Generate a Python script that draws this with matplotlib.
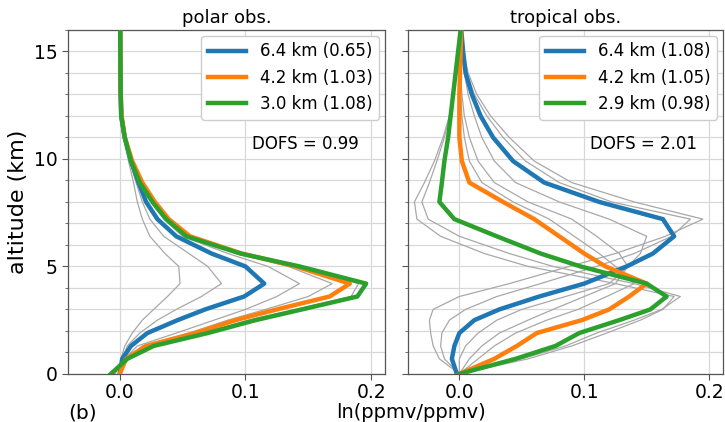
import matplotlib
matplotlib.use("Agg")
import matplotlib.pyplot as plt
from matplotlib.ticker import MultipleLocator

# altitude levels (km)
alt = [0, 0.7, 1.3, 1.9, 2.5, 3.0, 3.6, 4.2, 5.0, 5.6, 6.4, 7.2, 8.0, 8.9, 9.9,
       11.0, 12.0, 13.0, 14.0, 15.0, 16.0]

# ---- polar observation averaging kernels ----
polar_blue = [0.0, 0.002, 0.009, 0.022, 0.046, 0.068, 0.099, 0.115, 0.100, 0.073, 0.045,
              0.030, 0.021, 0.015, 0.009, 0.004, 0.0012, 0.0008, 0.0006, 0.0005, 0.0004]
polar_orange = [0.0, 0.005, 0.021, 0.060, 0.092, 0.125, 0.167, 0.183, 0.140, 0.097, 0.056,
                0.039, 0.028, 0.018, 0.010, 0.004, 0.0015, 0.0008, 0.0006, 0.0005, 0.0004]
polar_green = [-0.007, 0.006, 0.027, 0.070, 0.108, 0.145, 0.189, 0.196, 0.143, 0.096, 0.053,
               0.037, 0.026, 0.016, 0.009, 0.004, 0.0012, 0.0008, 0.0006, 0.0005, 0.0004]
polar_gray = [
    [0.0, 0.001, 0.004, 0.010, 0.018, 0.027, 0.038, 0.048, 0.047, 0.036, 0.024,
     0.018, 0.014, 0.011, 0.007, 0.003, 0.001, 0.0006, 0.0005, 0.0004, 0.0003],
    [0.0, 0.002, 0.006, 0.016, 0.030, 0.045, 0.065, 0.081, 0.070, 0.055, 0.035,
     0.024, 0.018, 0.013, 0.008, 0.004, 0.001, 0.0006, 0.0005, 0.0004, 0.0003],
    [0.0, 0.004, 0.014, 0.045, 0.075, 0.100, 0.125, 0.143, 0.118, 0.086, 0.050,
     0.035, 0.025, 0.016, 0.009, 0.004, 0.001, 0.0007, 0.0005, 0.0004, 0.0003],
    [0.0, 0.005, 0.018, 0.055, 0.086, 0.116, 0.150, 0.169, 0.134, 0.094, 0.054,
     0.038, 0.027, 0.017, 0.010, 0.004, 0.0012, 0.0008, 0.0006, 0.0005, 0.0004],
    [-0.004, 0.006, 0.025, 0.066, 0.102, 0.140, 0.184, 0.190, 0.141, 0.095, 0.054,
     0.038, 0.027, 0.017, 0.010, 0.004, 0.0012, 0.0008, 0.0006, 0.0005, 0.0004],
]

# ---- tropical observation averaging kernels ----
trop_blue = [-0.002, -0.006, -0.004, 0.000, 0.012, 0.032, 0.064, 0.100, 0.134, 0.155, 0.172,
             0.163, 0.112, 0.068, 0.043, 0.027, 0.017, 0.010, 0.005, 0.003, 0.0015]
trop_orange = [0.0, 0.028, 0.046, 0.062, 0.098, 0.120, 0.136, 0.150, 0.117, 0.100, 0.080,
               0.060, 0.035, 0.008, 0.002, 0.0, 0.0, 0.0, 0.0005, 0.001, 0.0014]
trop_green = [0.0, 0.045, 0.077, 0.096, 0.128, 0.153, 0.166, 0.150, 0.097, 0.065, 0.030,
              -0.004, -0.016, -0.014, -0.012, -0.009, -0.007, -0.005, -0.003, -0.001, 0.001]
trop_gray = [
    [0.0, -0.016, -0.021, -0.023, -0.024, -0.021, 0.000, 0.040, 0.088, 0.125, 0.165,
     0.195, 0.140, 0.090, 0.060, 0.040, 0.025, 0.014, 0.007, 0.003, 0.0015],
    [0.0, -0.012, -0.015, -0.014, -0.008, 0.005, 0.030, 0.065, 0.110, 0.140, 0.170,
     0.185, 0.122, 0.080, 0.053, 0.035, 0.022, 0.012, 0.006, 0.003, 0.0015],
    [0.0, 0.000, 0.005, 0.015, 0.030, 0.050, 0.085, 0.120, 0.135, 0.145, 0.150,
     0.120, 0.080, 0.045, 0.028, 0.018, 0.012, 0.007, 0.004, 0.002, 0.0015],
    [0.0, 0.008, 0.018, 0.032, 0.055, 0.075, 0.100, 0.125, 0.135, 0.128, 0.110,
     0.090, 0.055, 0.028, 0.015, 0.008, 0.004, 0.002, 0.001, 0.001, 0.0014],
    [0.0, 0.015, 0.028, 0.045, 0.070, 0.095, 0.118, 0.140, 0.125, 0.112, 0.092,
     0.072, 0.043, 0.018, 0.008, 0.004, 0.002, 0.001, 0.001, 0.001, 0.0014],
    [0.0, 0.050, 0.085, 0.110, 0.140, 0.162, 0.177, 0.140, 0.075, 0.040, 0.000,
     -0.025, -0.030, -0.024, -0.018, -0.012, -0.008, -0.005, -0.003, -0.001, 0.0],
    [0.0, 0.055, 0.090, 0.118, 0.145, 0.163, 0.172, 0.125, 0.055, 0.020, -0.015,
     -0.034, -0.036, -0.028, -0.020, -0.013, -0.008, -0.005, -0.003, -0.001, 0.0],
]

polar_labels = ["6.4 km (0.65)", "4.2 km (1.03)", "3.0 km (1.08)"]
trop_labels = ["6.4 km (1.08)", "4.2 km (1.05)", "2.9 km (0.98)"]
titles = ["polar obs.", "tropical obs."]
dofs = ["DOFS = 0.99", "DOFS = 2.01"]
xticks = [0.0, 0.1, 0.2]

colors = ["#1f77b4", "#ff7f0e", "#2ca02c"]

fig = plt.figure(figsize=(7.25, 4.22), dpi=100)
ax1 = fig.add_axes([0.094, 0.114, 0.437, 0.815])
ax2 = fig.add_axes([0.563, 0.114, 0.434, 0.815], sharey=ax1)

panels = [
    (ax1, polar_gray, [polar_blue, polar_orange, polar_green], polar_labels),
    (ax2, trop_gray, [trop_blue, trop_orange, trop_green], trop_labels),
]

for i, (ax, grays, cols, labs) in enumerate(panels):
    for g in grays:
        ax.plot(g, alt, color="#a8a8a8", lw=0.9, zorder=2)
    for c, vals, lab in zip(colors, cols, labs):
        ax.plot(vals, alt, color=c, lw=3.2, label=lab, zorder=3)
    ax.set_xlim(-0.041, 0.211)
    ax.set_ylim(0, 16)
    ax.set_xticks(xticks)
    ax.set_xticklabels(["%.1f" % t for t in xticks])
    ax.yaxis.set_major_locator(MultipleLocator(5))
    ax.yaxis.set_minor_locator(MultipleLocator(1))
    ax.grid(True, which="major", axis="x", color="#d8d8d8", lw=0.9)
    ax.grid(True, which="both", axis="y", color="#d8d8d8", lw=0.9)
    ax.set_axisbelow(True)
    ax.tick_params(axis="both", which="major", labelsize=13.5, length=4, color="#555555")
    ax.tick_params(axis="x", which="major", pad=2.5)
    ax.tick_params(axis="y", which="minor", length=2.5, color="#555555")
    for s in ax.spines.values():
        s.set_color("#555555")
        s.set_linewidth(0.9)
    ax.set_title(titles[i], fontsize=13, pad=5)
    ax.text(0.105, 10.7, dofs[i], fontsize=12, va="center", ha="left")
    ax.legend(loc="upper right", fontsize=12, handlelength=2.3,
              borderaxespad=0.35, framealpha=1.0, edgecolor="#cccccc")

plt.setp(ax2.get_yticklabels(), visible=False)
ax1.set_ylabel("altitude (km)", fontsize=16)

fig.text(0.567, 0.022, "ln(ppmv/ppmv)", fontsize=14, ha="center", va="center")
fig.text(0.094, 0.022, "(b)", fontsize=14.5, ha="left", va="center")

fig.savefig("out.png", dpi=100)
